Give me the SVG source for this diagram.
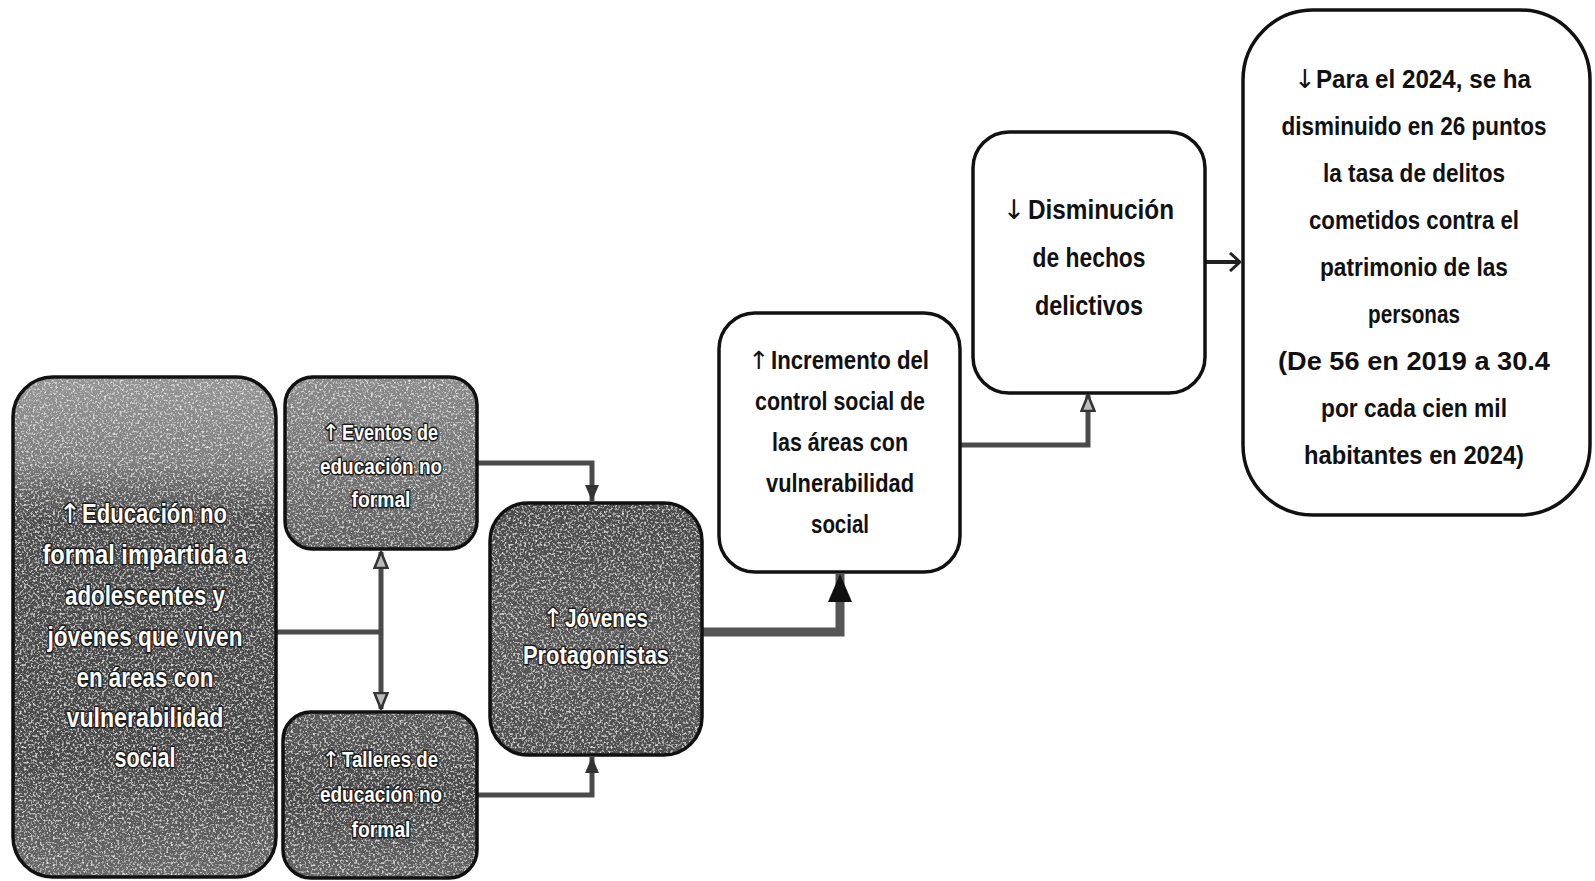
<svg xmlns="http://www.w3.org/2000/svg" width="1595" height="881" viewBox="0 0 1595 881">
<style>
.frame{fill:none;stroke:#111;stroke-width:3.5}
.wbox{fill:#fff;stroke:#111;stroke-width:3.5}
.wt{font-family:"Liberation Sans",Arial,sans-serif;font-weight:bold;fill:#fff;stroke:#1a1a1a;stroke-width:3;paint-order:stroke;stroke-linejoin:round;text-anchor:middle}
.bt{font-family:"Liberation Sans",Arial,sans-serif;font-weight:bold;fill:#111;text-anchor:middle}
.ar{font-family:"DejaVu Sans",sans-serif;font-weight:normal;text-anchor:middle}
.st{text-anchor:start}
.ln{fill:none;stroke:#4a4a4a;stroke-width:5;stroke-linejoin:miter}
.lnb{fill:none;stroke:#555;stroke-width:9;stroke-linejoin:miter}
</style>
<defs>
<linearGradient id="gA" x1="0" y1="0" x2="0" y2="1">
<stop offset="0" stop-color="#959595"/><stop offset="0.17" stop-color="#7e7e7e"/><stop offset="0.28" stop-color="#4e4e4e"/><stop offset="0.75" stop-color="#474747"/><stop offset="1" stop-color="#686868"/>
</linearGradient>
<linearGradient id="gE" x1="0" y1="0" x2="0" y2="1">
<stop offset="0" stop-color="#8a8a8a"/><stop offset="0.6" stop-color="#707070"/><stop offset="1" stop-color="#5e5e5e"/>
</linearGradient>
<linearGradient id="gT" x1="0" y1="0" x2="0" y2="1">
<stop offset="0" stop-color="#5a5a5a"/><stop offset="0.5" stop-color="#474747"/><stop offset="1" stop-color="#626262"/>
</linearGradient>
<linearGradient id="gJ" x1="0" y1="0" x2="0" y2="1">
<stop offset="0" stop-color="#4a4a4a"/><stop offset="0.5" stop-color="#585858"/><stop offset="1" stop-color="#4e4e4e"/>
</linearGradient>
<filter id="grain" x="0" y="0" width="100%" height="100%">
<feTurbulence type="fractalNoise" baseFrequency="0.45" numOctaves="2" seed="7" result="n"/>
<feColorMatrix in="n" type="matrix" values="0 0 0 0 1  0 0 0 0 1  0 0 0 0 1  2.4 0 0 0 -1.2" result="w"/>
<feComposite in="w" in2="SourceGraphic" operator="in" result="wi"/>
<feMerge><feMergeNode in="SourceGraphic"/><feMergeNode in="wi"/></feMerge>
</filter>
<marker id="aUp" viewBox="0 0 14 16" refX="7" refY="0" markerWidth="14" markerHeight="16" markerUnits="userSpaceOnUse" orient="0">
<path d="M0,16 L14,16 L7,0 Z" fill="#333"/>
</marker>
<marker id="aDown" viewBox="0 0 14 16" refX="7" refY="16" markerWidth="14" markerHeight="16" markerUnits="userSpaceOnUse" orient="0">
<path d="M0,0 L14,0 L7,16 Z" fill="#333"/>
</marker>
<marker id="aBig" viewBox="0 0 24 28" refX="12" refY="0" markerWidth="24" markerHeight="28" markerUnits="userSpaceOnUse" orient="0">
<path d="M0,28 L24,28 L12,0 Z" fill="#111"/>
</marker>
<marker id="oUp" viewBox="0 0 16 18" refX="8" refY="1" markerWidth="16" markerHeight="18" markerUnits="userSpaceOnUse" orient="0">
<path d="M1.5,17 L8,1 L14.5,17 Z" fill="#bbb" stroke="#333" stroke-width="2.5"/>
</marker>
<marker id="oDown" viewBox="0 0 16 18" refX="8" refY="17" markerWidth="16" markerHeight="18" markerUnits="userSpaceOnUse" orient="0">
<path d="M1.5,1 L8,17 L14.5,1 Z" fill="#bbb" stroke="#333" stroke-width="2.5"/>
</marker>
<marker id="chev" viewBox="0 0 14 20" refX="13" refY="10" markerWidth="14" markerHeight="20" markerUnits="userSpaceOnUse" orient="0">
<path d="M3,1 L13,10 L3,19" fill="none" stroke="#222" stroke-width="3"/>
</marker>
</defs>

<g id="connectors">
<path class="ln" d="M276,632 H381"/>
<path class="ln" d="M381,552 V709" marker-start="url(#oUp)" marker-end="url(#oDown)"/>
<path class="ln" d="M477,463 H592 V501" marker-end="url(#aDown)"/>
<path class="ln" d="M477,795 H592 V757" marker-end="url(#aUp)"/>
<path class="lnb" d="M702,632 H840 V574" marker-end="url(#aBig)"/>
<path class="ln" d="M960,445 H1088 V395" marker-end="url(#oUp)"/>
<path class="ln" style="stroke:#222;stroke-width:4" d="M1205,262 H1240" marker-end="url(#chev)"/>
</g>

<g id="node-educacion">
<rect x="13" y="377" width="263" height="500" rx="40" fill="url(#gA)" filter="url(#grain)"/>
<rect class="frame" x="13" y="377" width="263" height="500" rx="40"/>
<g class="wt" font-size="27">
<text class="ar" x="70" y="523">↑</text>
<text class="st" x="82" y="523" textLength="145" lengthAdjust="spacingAndGlyphs">Educación no</text>
<text x="145" y="564" textLength="205" lengthAdjust="spacingAndGlyphs">formal impartida a</text>
<text x="145" y="605" textLength="160" lengthAdjust="spacingAndGlyphs">adolescentes y</text>
<text x="145" y="646" textLength="195" lengthAdjust="spacingAndGlyphs">jóvenes que viven</text>
<text x="145" y="687" textLength="137" lengthAdjust="spacingAndGlyphs">en áreas con</text>
<text x="145" y="727" textLength="157" lengthAdjust="spacingAndGlyphs">vulnerabilidad</text>
<text x="145" y="767" textLength="61" lengthAdjust="spacingAndGlyphs">social</text>
</g>
</g>

<g id="node-eventos">
<rect x="285" y="377" width="192" height="172" rx="28" fill="url(#gE)" filter="url(#grain)"/>
<rect class="frame" x="285" y="377" width="192" height="172" rx="28"/>
<g class="wt" font-size="22">
<text class="ar" x="331" y="440">↑</text>
<text class="st" x="342" y="440" textLength="96" lengthAdjust="spacingAndGlyphs">Eventos de</text>
<text x="381" y="474" textLength="122" lengthAdjust="spacingAndGlyphs">educación no</text>
<text x="381" y="507" textLength="59" lengthAdjust="spacingAndGlyphs">formal</text>
</g>
</g>

<g id="node-talleres">
<rect x="283" y="712" width="194" height="166" rx="28" fill="url(#gT)" filter="url(#grain)"/>
<rect class="frame" x="283" y="712" width="194" height="166" rx="28"/>
<g class="wt" font-size="22">
<text class="ar" x="331" y="767">↑</text>
<text class="st" x="342" y="767" textLength="96" lengthAdjust="spacingAndGlyphs">Talleres de</text>
<text x="381" y="802" textLength="122" lengthAdjust="spacingAndGlyphs">educación no</text>
<text x="381" y="837" textLength="59" lengthAdjust="spacingAndGlyphs">formal</text>
</g>
</g>

<g id="node-jovenes">
<rect x="490" y="503" width="212" height="252" rx="38" fill="url(#gJ)" filter="url(#grain)"/>
<rect class="frame" x="490" y="503" width="212" height="252" rx="38"/>
<g class="wt" font-size="26">
<text class="ar" x="553" y="627">↑</text>
<text class="st" x="565" y="627" textLength="83" lengthAdjust="spacingAndGlyphs">Jóvenes</text>
<text x="596" y="664" textLength="146" lengthAdjust="spacingAndGlyphs">Protagonistas</text>
</g>
</g>

<g id="node-incremento">
<rect class="wbox" x="719" y="313" width="241" height="259" rx="36"/>
<g class="bt" font-size="25">
<text class="ar" x="759" y="369">↑</text>
<text class="st" x="771" y="369" textLength="158" lengthAdjust="spacingAndGlyphs">Incremento del</text>
<text x="840" y="410" textLength="170" lengthAdjust="spacingAndGlyphs">control social de</text>
<text x="840" y="451" textLength="136" lengthAdjust="spacingAndGlyphs">las áreas con</text>
<text x="840" y="492" textLength="148" lengthAdjust="spacingAndGlyphs">vulnerabilidad</text>
<text x="840" y="533" textLength="58" lengthAdjust="spacingAndGlyphs">social</text>
</g>
</g>

<g id="node-disminucion">
<rect class="wbox" x="973" y="132" width="232" height="261" rx="36"/>
<g class="bt" font-size="27">
<text class="ar" x="1014" y="219" font-weight="bold">↓</text>
<text class="st" x="1028" y="219" textLength="146" lengthAdjust="spacingAndGlyphs">Disminución</text>
<text x="1089" y="267" textLength="113" lengthAdjust="spacingAndGlyphs">de hechos</text>
<text x="1089" y="315" textLength="108" lengthAdjust="spacingAndGlyphs">delictivos</text>
</g>
</g>

<g id="node-resultado">
<rect class="wbox" x="1243" y="10" width="347" height="505" rx="70"/>
<g class="bt" font-size="26">
<text class="ar" x="1305" y="88">↓</text>
<text class="st" x="1316" y="88" textLength="215" lengthAdjust="spacingAndGlyphs">Para el 2024, se ha</text>
<text x="1414" y="135" textLength="265" lengthAdjust="spacingAndGlyphs">disminuido  en 26 puntos</text>
<text x="1414" y="182" textLength="182" lengthAdjust="spacingAndGlyphs">la tasa de delitos</text>
<text x="1414" y="229" textLength="210" lengthAdjust="spacingAndGlyphs">cometidos contra el</text>
<text x="1414" y="276" textLength="188" lengthAdjust="spacingAndGlyphs">patrimonio  de las</text>
<text x="1414" y="323" textLength="92" lengthAdjust="spacingAndGlyphs">personas</text>
<text x="1414" y="370" textLength="272" lengthAdjust="spacingAndGlyphs">(De 56 en 2019 a 30.4</text>
<text x="1414" y="417" textLength="186" lengthAdjust="spacingAndGlyphs">por cada cien mil</text>
<text x="1414" y="464" textLength="220" lengthAdjust="spacingAndGlyphs">habitantes  en 2024)</text>
</g>
</g>
</svg>
